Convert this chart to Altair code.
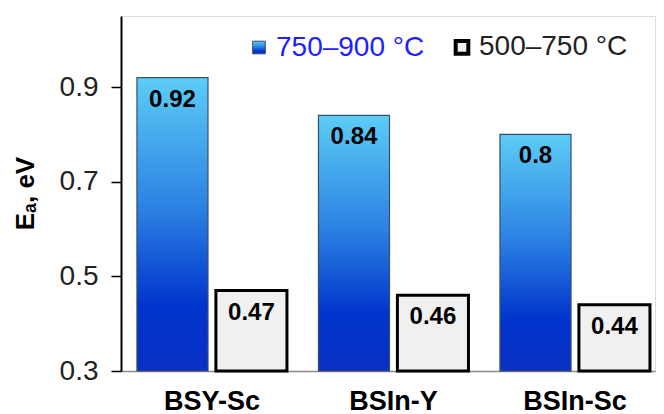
import altair as alt
import pandas as pd

samples = ["BSY-Sc", "BSIn-Y", "BSIn-Sc"]
series_names = ["750–900 °C", "500–750 °C"]
high_t = [0.92, 0.84, 0.80]
low_t = [0.47, 0.46, 0.44]
y_ticks = [0.3, 0.5, 0.7, 0.9]

rows = []
for s, v in zip(samples, high_t):
    rows.append({"sample": s, "series": series_names[0], "value": v, "label": f"{v:g}"})
for s, v in zip(samples, low_t):
    rows.append({"sample": s, "series": series_names[1], "value": v, "label": f"{v:g}"})
df = pd.DataFrame(rows)

FONT = "Liberation Sans"

blue_grad_expr = ("{gradient:'linear', x1:0, y1:0, x2:0, y2:1, stops:["
                  "{offset:0, color:'#5ccdf6'}, {offset:0.45, color:'#2b80e2'}, "
                  "{offset:0.78, color:'#0034cc'}, {offset:1, color:'#0a30c4'}]}")

x_enc = alt.X(
    "sample:N", sort=samples,
    scale=alt.Scale(paddingInner=0.1736, paddingOuter=0.0578, align=0.76),
    axis=alt.Axis(title=None, labelAngle=0, labelFontSize=27, labelFontWeight="bold",
                  labelColor="black", labelFont=FONT, ticks=False, domainColor="#8a8a8a",
                  domainWidth=1.5, labelPadding=17),
)
xo_enc = alt.XOffset("series:N", sort=series_names,
                     scale=alt.Scale(domain=series_names, paddingInner=0.1, paddingOuter=0))
y_enc = alt.Y(
    "value:Q",
    scale=alt.Scale(domain=[0.3, 1.05], zero=False, nice=False),
    axis=alt.Axis(values=y_ticks, format=".1f", grid=False, labelFontSize=28,
                  labelFont=FONT, labelColor="#222222", tickSize=10, tickColor="black",
                  tickWidth=1.5, domainColor="black", domainWidth=2, labelPadding=13,
                  title="Eₐ, eV", titleFontSize=26, titleFontWeight="bold", titleFont=FONT,
                  titleColor="black", titleAngle=270, titleAlign="center",
                  titleBaseline="middle", titleX=-96, titleY=177),
)

base = alt.Chart(df).encode(x=x_enc, xOffset=xo_enc, y=y_enc, y2=alt.datum(0.3))

bars = base.mark_bar().encode(
    color=alt.Color(
        "series:N",
        scale=alt.Scale(domain=series_names, range=[{"expr": blue_grad_expr}, "#f0f0f0"]),
        legend=alt.Legend(
            title=None, orient="none", direction="horizontal",
            legendX=124, legendY=17, symbolType="square", symbolSize=160,
            labelFontSize=28, labelFont=FONT, labelOffset=3, columnPadding=22,
            labelColor={"expr": "datum.index === 0 ? '#1e1eff' : '#222222'"},
            symbolStrokeColor={"expr": "datum.index === 0 ? '#3b4c70' : 'black'"},
            symbolStrokeWidth={"expr": "datum.index === 0 ? 1 : 4"},
            symbolOpacity=1,
        ),
    ),
    stroke=alt.condition(alt.datum.series == series_names[1], alt.value("black"), alt.value("#3b4c70")),
    strokeWidth=alt.condition(alt.datum.series == series_names[1], alt.value(3), alt.value(1.2)),
)

labels = base.mark_text(
    baseline="middle", align="center", dy=22, fontSize=24, fontWeight="bold",
    font=FONT, color="black"
).encode(text="label:N")

chart = alt.layer(bars, labels).properties(
    width=534, height=355,
    autosize=alt.AutoSizeParams(type="none"),
    padding={"left": 113, "top": 8, "right": 1, "bottom": 43},
).configure_view(stroke="black", strokeWidth=2).configure(background="white")

chart.save("out.html", embed_options={"renderer": "svg", "actions": False})
